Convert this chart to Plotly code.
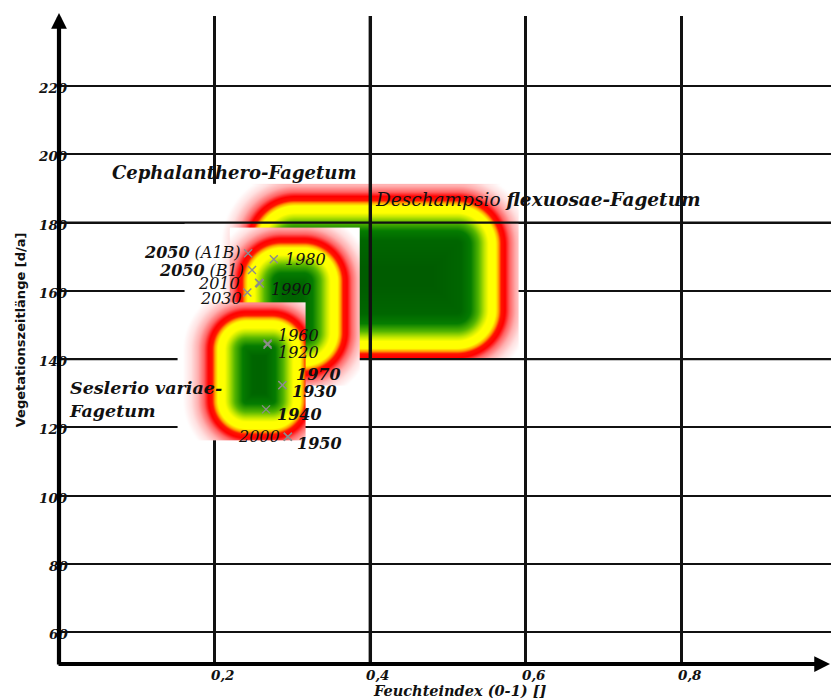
import numpy as np
import plotly.graph_objects as go

# ---------------------------------------------------------------------------
# Vegetation zones (Feuchteindex vs. Vegetationszeitlänge)
# core = extent of the optimum (yellow contour), tile = drawn tile around it
zone_names = ["Deschampsio flexuosae-Fagetum", "Cephalanthero-Fagetum",
              "Seslerio variae-Fagetum"]
core_x_lo = [0.256, 0.245, 0.207]
core_x_hi = [0.556, 0.353, 0.306]
core_y_lo = [144.2, 139.2, 120.7]
core_y_hi = [184.3, 172.0, 150.6]
tile_x_lo = [0.162, 0.220, 0.153]
tile_x_hi = [0.590, 0.386, 0.316]
tile_y_lo = [140.35, 132.4, 116.3]
tile_y_hi = [191.2, 178.4, 156.5]

# Climate states per decade / scenario
year_labels = ["2050 (A1B)", "2050 (B1)", "2010", "2030", "1980", "1990",
               "1960", "1920", "1970", "1930", "1940", "2000", "1950"]
feuchte = [0.243, 0.248, 0.257, 0.242, 0.276, 0.258,
           0.268, 0.268, 0.287, 0.287, 0.266, 0.294, 0.294]
vegzeit = [171.0, 166.1, 162.4, 159.5, 169.3, 162.2,
           144.6, 144.2, 132.4, 132.4, 125.3, 117.3, 117.3]

x_ticks = [0.2, 0.4, 0.6, 0.8]
x_tick_text = ["0,2", "0,4", "0,6", "0,8"]
y_ticks = [60, 80, 100, 120, 140, 160, 180, 200, 220]
y_tick_text = ["60", "80", "100", "120", "140", "160", "180", "200", "220"]

# ---------------------------------------------------------------------------
# styling
W, H = 831, 700
M_L, M_R, M_T, M_B = 59, 0, 16, 36
PLOT_H = H - M_T - M_B
PX_X = 778.3          # pixels per unit Feuchteindex
PX_Y = 3.414          # pixels per day
X_RANGE = [0, (W - M_L - M_R) / PX_X]
Y_LO = 60 - (664 - 632.3) / PX_Y
Y_RANGE = [Y_LO, Y_LO + PLOT_H / PX_Y]

zone_radius = [36, 31, 26]
grid_above_zone_x = [0.4]          # grid lines that stay visible over the big zone
grid_above_zone_y = [180, 140]

label_anchor = ["right", "right", "right", "right", "left", "left",
                "left", "left", "left", "left", "left", "right", "left"]
label_dx = [-6, -7, -18, -4, 10, 10, 9, 9, 13, 9, 10, -7, 8]
label_dy = [1, 0, -1, -6, 0, -6, 8, -8, 11, -6, -5, 0, -7]
label_bold = [False, False, False, False, False, False,
              False, False, True, True, True, False, True]

SERIF = "DejaVu Serif"
D_MIN, D_MAX = -60.0, 38.0
stops = [(-60, "rgb(0,92,0)"), (-32, "rgb(0,102,0)"), (-22, "rgb(5,124,0)"),
         (-14, "rgb(85,182,0)"), (-8, "rgb(195,232,0)"), (-4, "rgb(255,255,0)"),
         (3, "rgb(255,255,0)"), (6, "rgb(255,160,0)"), (8.5, "rgb(255,20,0)"),
         (12.5, "rgb(255,0,0)"), (17, "rgb(255,100,100)"), (23, "rgb(255,175,175)"),
         (30, "rgb(255,225,225)"), (38, "rgb(255,255,255)")]
colorscale = [[(d - D_MIN) / (D_MAX - D_MIN), c] for d, c in stops]


def zone_field(i):
    """Signed pixel distance to the rounded optimum box of zone i."""
    r = zone_radius[i]
    nx = int((tile_x_hi[i] - tile_x_lo[i]) * PX_X) + 1
    ny = int((tile_y_hi[i] - tile_y_lo[i]) * PX_Y) + 1
    xs = np.linspace(tile_x_lo[i], tile_x_hi[i], nx)
    ys = np.linspace(tile_y_lo[i], tile_y_hi[i], ny)
    X, Y = np.meshgrid(xs, ys)
    cx = (core_x_lo[i] + core_x_hi[i]) / 2
    cy = (core_y_lo[i] + core_y_hi[i]) / 2
    hx = (core_x_hi[i] - core_x_lo[i]) / 2 * PX_X
    hy = (core_y_hi[i] - core_y_lo[i]) / 2 * PX_Y
    qx = np.abs(X - cx) * PX_X - (hx - r)
    qy = np.abs(Y - cy) * PX_Y - (hy - r)
    d = (np.hypot(np.maximum(qx, 0), np.maximum(qy, 0))
         + np.minimum(np.maximum(qx, qy), 0) - r)
    return xs, ys, np.clip(d, D_MIN, D_MAX)


def zone_trace(i, xa, ya):
    xs, ys, z = zone_field(i)
    return go.Heatmap(x=xs, y=ys, z=z, zmin=D_MIN, zmax=D_MAX,
                      colorscale=colorscale, showscale=False, zsmooth="best",
                      hoverinfo="skip", xaxis=xa, yaxis=ya, name=zone_names[i])


fig = go.Figure()

# base layer: the large zone, with some grid lines drawn over it
fig.add_trace(zone_trace(0, "x", "y"))
for gx in grid_above_zone_x:
    fig.add_trace(go.Scatter(x=[gx, gx], y=[Y_RANGE[0], Y_RANGE[1]], mode="lines",
                             line=dict(color="#111", width=3.4), hoverinfo="skip",
                             showlegend=False, xaxis="x", yaxis="y"))
for gy in grid_above_zone_y:
    fig.add_trace(go.Scatter(x=[X_RANGE[0], X_RANGE[1]], y=[gy, gy], mode="lines",
                             line=dict(color="#111", width=2.2), hoverinfo="skip",
                             showlegend=False, xaxis="x", yaxis="y"))

# overlay layer: the two smaller zones and the climate points
fig.add_trace(zone_trace(1, "x2", "y2"))
fig.add_trace(zone_trace(2, "x2", "y2"))
fig.add_trace(go.Scatter(x=feuchte, y=vegzeit, mode="markers", text=year_labels,
                         marker=dict(symbol="x-thin", size=8,
                                     line=dict(width=1.4, color="#8c8c8c")),
                         hoverinfo="text", showlegend=False, xaxis="x2", yaxis="y2"))

annotations = []

# tick labels
tick_font = dict(family=SERIF, size=13.5, color="#111", weight="bold", style="italic")
for v, t in zip(y_ticks, y_tick_text):
    annotations.append(dict(x=0, y=v, xref="x", yref="y", text=t, showarrow=False,
                            xanchor="right", yanchor="middle", xshift=11, yshift=-2,
                            font=tick_font))
for v, t in zip(x_ticks, x_tick_text):
    annotations.append(dict(x=v, y=Y_RANGE[0], xref="x", yref="y", text=t,
                            showarrow=False, xanchor="center", yanchor="top",
                            xshift=8, yshift=-2, borderpad=0, font=tick_font))

# axes with arrow heads
annotations.append(dict(x=0, y=(PLOT_H + M_T - 13) / PLOT_H, xref="paper", yref="paper",
                        ax=0, ay=(PLOT_H + M_T - 13) - (-2), axref="pixel", ayref="pixel",
                        text="", showarrow=True, arrowhead=2, arrowsize=0.75,
                        arrowwidth=4.2, arrowcolor="#000", standoff=0, startstandoff=0))
annotations.append(dict(x=1, y=0, xref="paper", yref="paper",
                        ax=-(W - M_L) - 2, ay=0, axref="pixel", ayref="pixel",
                        text="", showarrow=True, arrowhead=2, arrowsize=0.75,
                        arrowwidth=4.2, arrowcolor="#000", standoff=0, startstandoff=0))

# axis titles
annotations.append(dict(x=0, y=0.515, xref="paper", yref="paper",
                        text="Vegetationszeitlänge [d/a]", showarrow=False,
                        textangle=-90, xanchor="center", yanchor="middle", xshift=-39,
                        font=dict(family="DejaVu Sans", size=13, color="#111",
                                  weight="bold")))
annotations.append(dict(x=0.519, y=0, xref="paper", yref="paper",
                        text="Feuchteindex (0-1) []", showarrow=False,
                        xanchor="center", yanchor="bottom", yshift=-36, borderpad=0,
                        font=dict(family=SERIF, size=14.5, color="#111",
                                  weight="bold", style="italic")))

# zone names
annotations.append(dict(x=0.2249, y=194.8, xref="x", yref="y",
                        text="Cephalanthero-Fagetum", showarrow=False,
                        xanchor="center", yanchor="middle",
                        font=dict(family=SERIF, size=18, color="#111",
                                  weight="bold", style="italic")))
annotations.append(dict(x=0.404, y=186.8, xref="x", yref="y",
                        text="Deschampsio <b>flexuosae-Fagetum</b>", showarrow=False,
                        xanchor="left", yanchor="middle",
                        font=dict(family=SERIF, size=18.5, color="#111",
                                  style="italic")))
annotations.append(dict(x=0.010, y=128.3, xref="x", yref="y",
                        text="Seslerio variae-<br>Fagetum", showarrow=False,
                        xanchor="left", yanchor="middle", align="left",
                        font=dict(family=SERIF, size=17.5, color="#111",
                                  weight="bold", style="italic")))

# year labels next to the climate points
for i, lab in enumerate(year_labels):
    txt = lab
    if lab.startswith("2050"):
        txt = "<b>2050</b>" + lab[4:]
    annotations.append(dict(x=feuchte[i], y=vegzeit[i], xref="x2", yref="y2",
                            text=txt, showarrow=False, xanchor=label_anchor[i],
                            yanchor="middle", xshift=label_dx[i], yshift=label_dy[i],
                            borderpad=0,
                            font=dict(family=SERIF, size=16, color="#111",
                                      style="italic",
                                      weight="bold" if label_bold[i] else "normal")))

fig.update_layout(
    width=W, height=H,
    margin=dict(l=M_L, r=M_R, t=M_T, b=M_B),
    paper_bgcolor="white", plot_bgcolor="white",
    showlegend=False,
    xaxis=dict(range=X_RANGE, tickvals=x_ticks, showticklabels=False, ticks="",
               showgrid=True, gridcolor="#111", gridwidth=3.4, zeroline=False,
               showline=False, fixedrange=True),
    yaxis=dict(range=Y_RANGE, tickvals=y_ticks, showticklabels=False, ticks="",
               showgrid=True, gridcolor="#111", gridwidth=2.2, zeroline=False,
               showline=False, fixedrange=True),
    xaxis2=dict(overlaying="x", matches="x", visible=False, showgrid=False),
    yaxis2=dict(overlaying="y", matches="y", visible=False, showgrid=False),
    annotations=annotations,
)

fig.write_html("out.html")
